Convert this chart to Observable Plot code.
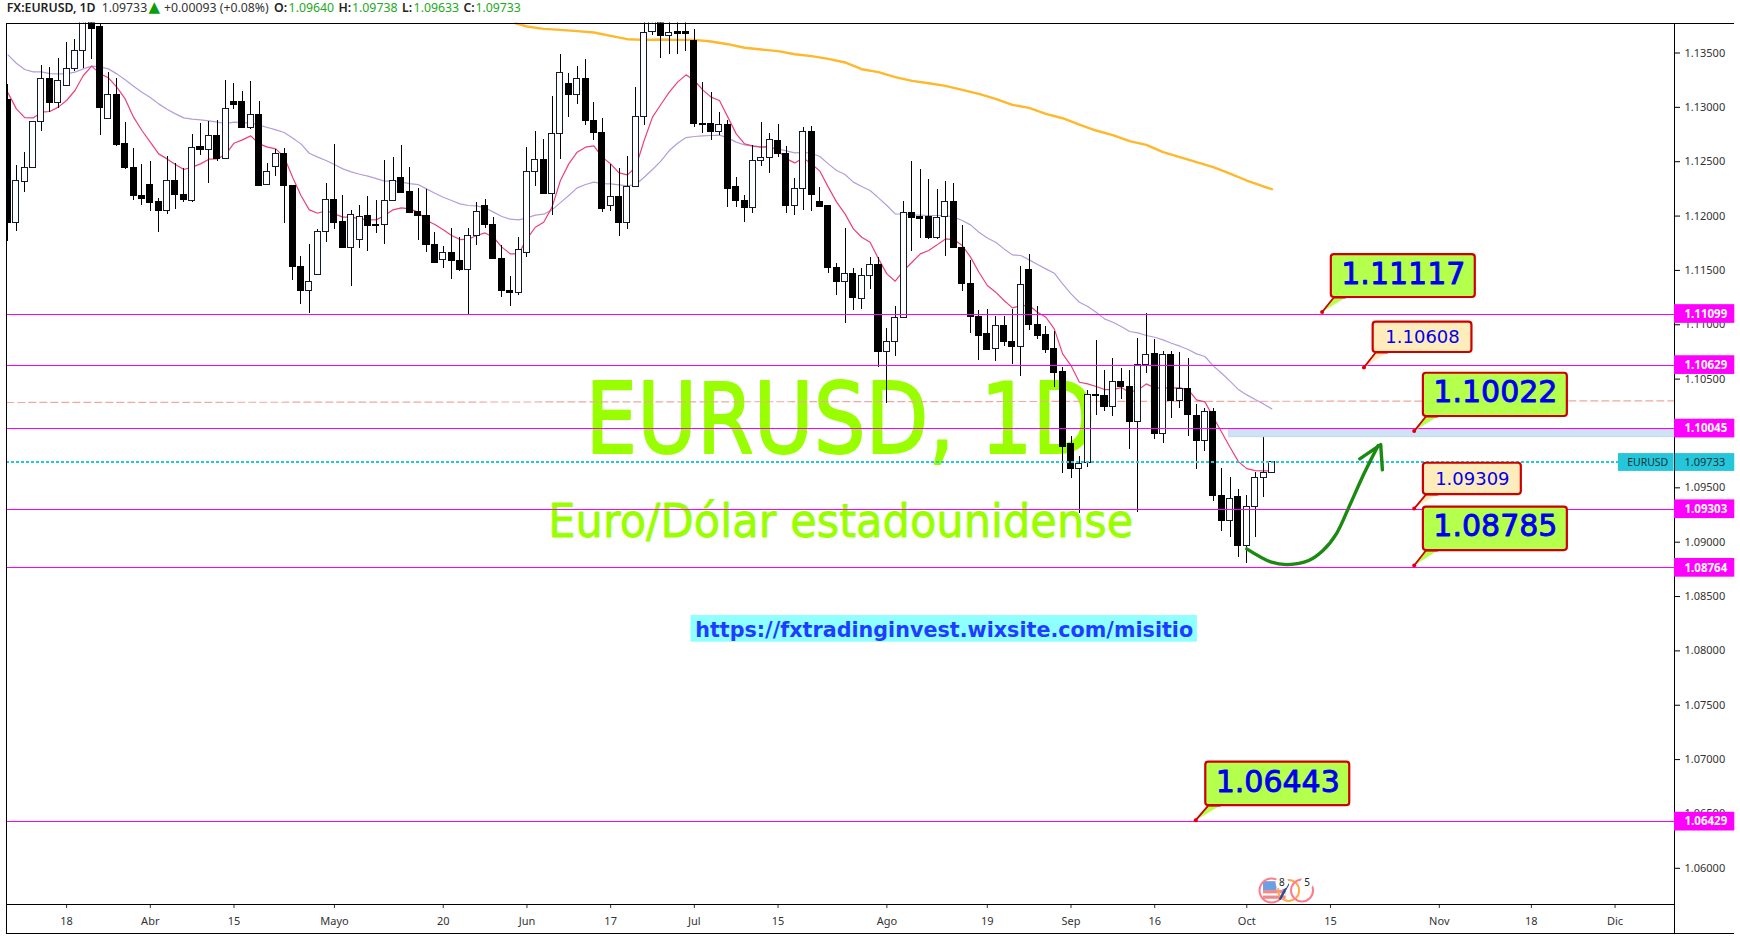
<!DOCTYPE html>
<html lang="es">
<head>
<meta charset="utf-8">
<script src="https://cdn.jsdelivr.net/npm/d3@7"></script>
<script src="https://cdn.jsdelivr.net/npm/@observablehq/plot@0.6"></script>
<style>
html,body{margin:0;padding:0;background:#fff;overflow:hidden}
#head{position:relative;height:22px;width:1740px;font-family:"Noto Sans",sans-serif;font-size:12.3px;line-height:15px;white-space:nowrap}
#head span{position:absolute;top:0}
svg{display:block}
</style>
</head>
<body>
<div id="head"></div>
<div id="chart"></div>
<script>
const opens=[1.13072,1.11934,1.12312,1.12444,1.12867,1.13263,1.13038,1.13195,1.13355,1.13520,1.13800,1.13735,1.12894,1.13115,1.12664,1.12444,1.12189,1.12287,1.12125,1.12048,1.12324,1.12198,1.12137,1.12631,1.12612,1.12738,1.12526,1.13045,1.13045,1.12808,1.12931,1.12287,1.12450,1.12572,1.12281,1.11536,1.11309,1.11459,1.11855,1.12152,1.11941,1.11704,1.11781,1.11996,1.11922,1.11919,1.12140,1.12352,1.12217,1.12033,1.12005,1.11738,1.11597,1.11661,1.11588,1.11505,1.11818,1.12088,1.11922,1.11606,1.11315,1.11291,1.11661,1.12407,1.12517,1.12201,1.12756,1.13216,1.13112,1.13263,1.12879,1.12766,1.12091,1.12177,1.11937,1.12269,1.12913,1.13695,1.13850,1.13655,1.13689,1.13689,1.13606,1.12851,1.12851,1.12769,1.12842,1.12269,1.12140,1.12076,1.12508,1.12536,1.12695,1.12572,1.12091,1.12250,1.12775,1.12131,1.12088,1.11524,1.11392,1.11468,1.11238,1.11450,1.11554,1.10748,1.10843,1.11063,1.12030,1.11987,1.11987,1.11796,1.11990,1.12131,1.11710,1.11376,1.11076,1.10919,1.10775,1.10993,1.10846,1.10794,1.11508,1.11002,1.10902,1.10781,1.10570,1.09907,1.09671,1.09730,1.10355,1.10349,1.10242,1.10478,1.10432,1.10104,1.10631,1.10735,1.09996,1.10726,1.10297,1.10413,1.10165,1.09929,1.10202,1.09429,1.09193,1.09417,1.08963,1.09322,1.09592,1.09640];
const closes=[1.11934,1.12324,1.12444,1.12867,1.13263,1.13038,1.13244,1.13355,1.13520,1.13800,1.13725,1.12993,1.13115,1.12658,1.12441,1.12183,1.12161,1.12119,1.12045,1.12324,1.12192,1.12146,1.12628,1.12606,1.12738,1.12523,1.12986,1.13026,1.12808,1.12931,1.12281,1.12407,1.12572,1.12275,1.11530,1.11309,1.11395,1.11855,1.12149,1.11934,1.11704,1.12011,1.11993,1.11907,1.11907,1.12140,1.12324,1.12210,1.12027,1.11996,1.11732,1.11566,1.11661,1.11585,1.11502,1.11815,1.12039,1.11916,1.11603,1.11309,1.11291,1.11689,1.12407,1.12517,1.12201,1.12756,1.13317,1.13112,1.13263,1.12873,1.12766,1.12063,1.12177,1.11934,1.12269,1.12913,1.13685,1.13850,1.13655,1.13685,1.13679,1.13673,1.12845,1.12842,1.12769,1.12839,1.12247,1.12137,1.12073,1.12508,1.12533,1.12701,1.12569,1.12091,1.12250,1.12775,1.12192,1.12082,1.11521,1.11392,1.11468,1.11245,1.11450,1.11551,1.10748,1.10843,1.11063,1.12030,1.11980,1.11977,1.11796,1.11983,1.12131,1.11704,1.11373,1.11070,1.10895,1.10769,1.10990,1.10840,1.10794,1.11367,1.10996,1.10895,1.10772,1.10560,1.09874,1.09671,1.09720,1.10355,1.10343,1.10242,1.10475,1.10423,1.10104,1.10631,1.10723,1.09993,1.10723,1.10297,1.10410,1.10168,1.09929,1.10199,1.09423,1.09193,1.09398,1.08963,1.09325,1.09592,1.09637,1.09733];
const highs=[1.13210,1.12465,1.12581,1.12867,1.13384,1.13370,1.13446,1.13596,1.13624,1.13900,1.13900,1.13774,1.13317,1.13263,1.12861,1.12618,1.12474,1.12499,1.12161,1.12548,1.12480,1.12434,1.12747,1.12848,1.12873,1.12876,1.13247,1.13216,1.13146,1.13238,1.13051,1.12480,1.12609,1.12618,1.12281,1.11628,1.11738,1.11873,1.12302,1.12658,1.12189,1.12048,1.12097,1.12180,1.12143,1.12511,1.12542,1.12649,1.12450,1.12253,1.12244,1.11849,1.11720,1.11882,1.11799,1.11882,1.12128,1.12149,1.11984,1.11729,1.11444,1.11799,1.12631,1.12778,1.12707,1.13100,1.13486,1.13308,1.13376,1.13440,1.13045,1.12894,1.12474,1.12434,1.12548,1.13183,1.13850,1.13950,1.13950,1.13850,1.13850,1.13850,1.13716,1.13229,1.13137,1.12953,1.12879,1.12352,1.12186,1.12646,1.12861,1.12756,1.12842,1.12640,1.12345,1.12818,1.12824,1.12263,1.12091,1.11563,1.11882,1.11517,1.11517,1.11619,1.11622,1.10962,1.11168,1.12134,1.12502,1.12428,1.12336,1.12244,1.12315,1.12299,1.11913,1.11591,1.11131,1.11141,1.11076,1.11076,1.11141,1.11536,1.11647,1.11171,1.10984,1.10941,1.10610,1.09972,1.09788,1.10395,1.10855,1.10579,1.10689,1.10595,1.10579,1.10873,1.11100,1.10864,1.10754,1.10754,1.10745,1.10689,1.10266,1.10233,1.10226,1.09674,1.09592,1.09484,1.09429,1.09637,1.09999,1.09738];
const lows=[1.11769,1.11861,1.12220,1.12444,1.12781,1.12950,1.12986,1.13195,1.13333,1.13355,1.13440,1.12744,1.12894,1.12643,1.12431,1.12143,1.12100,1.12045,1.11852,1.12011,1.12060,1.12128,1.12122,1.12557,1.12302,1.12505,1.12517,1.12980,1.12805,1.12796,1.12275,1.12281,1.12367,1.11934,1.11407,1.11189,1.11100,1.11459,1.11760,1.11879,1.11704,1.11355,1.11704,1.11677,1.11842,1.11741,1.12137,1.12210,1.12020,1.11775,1.11668,1.11560,1.11517,1.11419,1.11493,1.11082,1.11729,1.11882,1.11603,1.11254,1.11171,1.11269,1.11615,1.12275,1.12201,1.12008,1.12523,1.12904,1.13029,1.12833,1.12695,1.12036,1.12045,1.11815,1.11876,1.12266,1.12833,1.13661,1.13452,1.13486,1.13486,1.13514,1.12818,1.12763,1.12698,1.12741,1.12082,1.12082,1.11944,1.12027,1.12459,1.12395,1.12542,1.12027,1.12008,1.12051,1.12042,1.12076,1.11474,1.11269,1.11014,1.11131,1.11143,1.11327,1.10604,1.10279,1.10711,1.11054,1.11677,1.11793,1.11781,1.11787,1.11628,1.11701,1.11309,1.10923,1.10671,1.10763,1.10665,1.10800,1.10634,1.10527,1.10947,1.10864,1.10738,1.10426,1.09635,1.09589,1.09266,1.09690,1.10165,1.10202,1.10159,1.10309,1.09855,1.09276,1.10554,1.09944,1.09910,1.10141,1.10233,1.09975,1.09668,1.09837,1.09377,1.09101,1.09046,1.08856,1.08801,1.09046,1.09414,1.09633];
const emaFast=[1.13133,1.12986,1.12906,1.12903,1.12956,1.12962,1.13002,1.13063,1.13155,1.13293,1.13379,1.13308,1.13272,1.13186,1.13078,1.12910,1.12787,1.12680,1.12572,1.12526,1.12474,1.12428,1.12450,1.12480,1.12523,1.12526,1.12566,1.12670,1.12701,1.12738,1.12664,1.12634,1.12618,1.12542,1.12357,1.12189,1.12057,1.12026,1.12051,1.12020,1.11990,1.11990,1.11974,1.11968,1.11965,1.12005,1.12057,1.12076,1.12066,1.12036,1.11959,1.11922,1.11873,1.11821,1.11784,1.11787,1.11821,1.11845,1.11805,1.11714,1.11652,1.11652,1.11790,1.11897,1.11943,1.12082,1.12327,1.12480,1.12588,1.12634,1.12646,1.12542,1.12480,1.12397,1.12379,1.12450,1.12695,1.12910,1.13026,1.13140,1.13232,1.13299,1.13247,1.13161,1.13094,1.13063,1.12910,1.12756,1.12664,1.12643,1.12634,1.12643,1.12603,1.12526,1.12489,1.12535,1.12480,1.12413,1.12266,1.12128,1.12020,1.11882,1.11805,1.11759,1.11606,1.11468,1.11401,1.11499,1.11575,1.11652,1.11683,1.11735,1.11790,1.11784,1.11729,1.11622,1.11483,1.11361,1.11300,1.11223,1.11155,1.11177,1.11177,1.11115,1.11069,1.10962,1.10732,1.10625,1.10471,1.10456,1.10432,1.10404,1.10404,1.10422,1.10379,1.10401,1.10456,1.10419,1.10419,1.10419,1.10419,1.10404,1.10309,1.10291,1.10149,1.10011,1.09873,1.09741,1.09677,1.09659,1.09656,1.09656];
const emaSlow=[1.13483,1.13406,1.13348,1.13327,1.13327,1.13311,1.13308,1.13308,1.13324,1.13354,1.13379,1.13373,1.13354,1.13308,1.13253,1.13195,1.13140,1.13091,1.13032,1.12983,1.12940,1.12903,1.12891,1.12885,1.12876,1.12864,1.12851,1.12864,1.12860,1.12857,1.12836,1.12815,1.12793,1.12769,1.12719,1.12664,1.12578,1.12542,1.12511,1.12474,1.12434,1.12407,1.12385,1.12367,1.12345,1.12321,1.12324,1.12312,1.12299,1.12290,1.12250,1.12210,1.12173,1.12143,1.12112,1.12097,1.12094,1.12076,1.12036,1.11996,1.11971,1.11965,1.11983,1.12008,1.12017,1.12057,1.12124,1.12189,1.12259,1.12290,1.12312,1.12299,1.12296,1.12287,1.12278,1.12290,1.12357,1.12428,1.12505,1.12603,1.12670,1.12722,1.12732,1.12738,1.12741,1.12744,1.12719,1.12680,1.12655,1.12646,1.12634,1.12624,1.12618,1.12600,1.12581,1.12585,1.12578,1.12548,1.12480,1.12419,1.12382,1.12312,1.12272,1.12235,1.12167,1.12097,1.12020,1.12017,1.12011,1.12008,1.12005,1.12005,1.12005,1.11990,1.11959,1.11919,1.11851,1.11799,1.11759,1.11698,1.11643,1.11637,1.11597,1.11554,1.11514,1.11474,1.11376,1.11284,1.11207,1.11168,1.11115,1.11054,1.11023,1.10984,1.10938,1.10925,1.10901,1.10885,1.10861,1.10830,1.10803,1.10772,1.10732,1.10708,1.10622,1.10554,1.10481,1.10404,1.10355,1.10312,1.10272,1.10226];
const ema200Bars=[60.6,62,64,66,68,70,72,74,76,78,80,82,84,86,88,90,92,94,96,98,100,102,104,106,108,110,112,114,116,118,120,122,124,126,128,130,132,134,136,138,140,142,144,146,148,150,151];
const ema200=[1.13774,1.13744,1.13722,1.13713,1.13701,1.13689,1.13658,1.13627,1.13621,1.13624,1.13621,1.13621,1.13606,1.13581,1.13548,1.13532,1.13517,1.13489,1.13471,1.13446,1.13413,1.13351,1.13324,1.13278,1.13244,1.13222,1.13198,1.13161,1.13124,1.13078,1.13023,1.12995,1.12940,1.12900,1.12842,1.12787,1.12744,1.12689,1.12655,1.12588,1.12542,1.12496,1.12450,1.12391,1.12327,1.12272,1.12247];
const priceTicks=[1.06,1.065,1.07,1.075,1.08,1.085,1.09,1.095,1.10,1.105,1.11,1.115,1.12,1.125,1.13,1.135];
const timeTickBars=[7,17,27,39,52,62,72,82,92,105,117,127,137,148,158,171,182,192];
const timeTickLabels=["18","Abr","15","Mayo","20","Jun","17","Jul","15","Ago","19","Sep","16","Oct","15","Nov","18","Dic"];
const levels=[1.11099,1.10629,1.10045,1.09303,1.08764,1.06429];
const lastPrice=1.09733;
const callouts=[
 {v:"1.11117",tipX:157.0,tip:1.11117,x1:158.1,x2:175.3,top:1.11646,bot:1.11251,big:true},
 {v:"1.10608",tipX:162.0,tip:1.10608,x1:163.1,x2:174.9,top:1.11024,bot:1.10745,big:false},
 {v:"1.10022",tipX:168.0,tip:1.10022,x1:169.1,x2:186.3,top:1.10554,bot:1.10156,big:true},
 {v:"1.09309",tipX:168.0,tip:1.09309,x1:169.1,x2:180.8,top:1.09726,bot:1.09438,big:false},
 {v:"1.08785",tipX:168.0,tip:1.08785,x1:169.1,x2:186.3,top:1.09322,bot:1.08923,big:true},
 {v:"1.06443",tipX:141.9,tip:1.06443,x1:143.1,x2:160.3,top:1.06976,bot:1.06576,big:true}
];
const arrowBars=[148.0,150.95,152.9,155.4,157.1,158.7,160.2,162.0,163.7];
const arrowPrices=[1.08939,1.08816,1.08794,1.08831,1.08923,1.09077,1.09322,1.09629,1.09889];
const arrowHeadBars=[161.5,164.0,164.2];
const arrowHeadPrices=[1.09767,1.09898,1.09666];
const headerParts=[
 ["FX:EURUSD, 1D",6.7,"#222",600],["1.09733",101.7,"#333",400],["▲",148.5,"#0a9e0a",400],["+0.00093 (+0.08%)",164,"#333",400],
 ["O:",274,"#222",600],["1.09640",288.6,"#22a922",400],["H:",338.5,"#222",600],["1.09738",352,"#22a922",400],
 ["L:",402,"#222",600],["1.09633",413.6,"#22a922",400],["C:",463.5,"#222",600],["1.09733",475.4,"#22a922",400]
];

const headerBox=document.getElementById("head");
for(const [t,l,c,w] of headerParts){
 const s=document.createElement("span");s.textContent=t;s.style.left=l+"px";s.style.color=c;s.style.fontWeight=w;
 if(t==="▲"){s.style.fontSize="15px";s.style.fontFamily='"DejaVu Sans",sans-serif';}
 headerBox.appendChild(s);
}

const candles=d3.range(opens.length).map(i=>({i,o:opens[i],h:highs[i],l:lows[i],c:closes[i],up:closes[i]>=opens[i]}));
const seq=a=>a.map((v,i)=>({i,v}));
const barLeft=-0.143,barRight=199.1,barOuter=206.3,priceTop=1.13776,priceBottom=1.05667,priceFloor=1.054;
const GREEN="#b5ff4d",CREAM="#ffecbd",RED="#cc0000",MAG="#ff00ff",TEAL="#26c6da",LIME="#99ff00";
const font='"Noto Sans",sans-serif', dj='"DejaVu Sans",sans-serif';
const halfLabel=0.00086;
const crisp={shapeRendering:"crispEdges"};

const marks=[
 Plot.text(["EURUSD, 1D"],{x:()=>69.0,y:()=>1.09822,text:d=>d,textAnchor:"start",lineAnchor:"bottom",fontSize:98,fontFamily:dj,fill:LIME,stroke:LIME,strokeWidth:2,className:"wm-title"}),
 Plot.text(["Euro/Dólar estadounidense"],{x:()=>64.55,y:()=>1.09046,text:d=>d,textAnchor:"start",lineAnchor:"bottom",fontSize:46,fontFamily:dj,fill:LIME,stroke:LIME,strokeWidth:0.8,className:"wm-sub"}),
 Plot.rect([0],{x1:()=>81.6,x2:()=>142.1,y1:()=>1.08325,y2:()=>1.0808,fill:"#8fffff"}),
 Plot.text(["https://fxtradinginvest.wixsite.com/misitio"],{x:()=>82.1,y:()=>1.08126,text:d=>d,textAnchor:"start",lineAnchor:"bottom",fontSize:21,fontWeight:"bold",fontFamily:dj,fill:"#1f3dff",className:"wm-url"}),
 Plot.line([[barLeft,1.10285],[barRight,1.103]],{x:d=>d[0],y:d=>d[1],stroke:"#f0a8a0",strokeWidth:1.2,strokeDasharray:"7 4"}),
 Plot.line(seq(emaSlow),{x:"i",y:"v",stroke:"#b39ddb",strokeWidth:1.2,clip:true}),
 Plot.line(seq(emaFast),{x:"i",y:"v",stroke:"#ec407a",strokeWidth:1.2,clip:true}),
 Plot.line(ema200.map((v,k)=>({i:ema200Bars[k],v})),{x:"i",y:"v",stroke:"#ffb72b",strokeWidth:2.4,clip:true}),
 Plot.ruleX(candles,{x:"i",y1:"l",y2:"h",stroke:"#000",strokeWidth:1,clip:true,...crisp}),
 Plot.rect(candles,{x1:d=>d.i-0.36,x2:d=>d.i+0.36,y1:d=>Math.min(d.o,d.c),y2:d=>Math.max(d.o,d.c),fill:d=>d.up?"#fff":"#000",stroke:d=>d.up?"#111a2e":"#000",strokeWidth:1,clip:true,...crisp}),
 Plot.rect([0],{x1:()=>145.9,x2:()=>barRight,y1:()=>1.10034,y2:()=>1.09966,fill:"#cfe2f6",stroke:"#c0d8f2",strokeWidth:1}),
 Plot.ruleY(levels,{x1:barLeft,x2:barRight,stroke:MAG,strokeWidth:1,...crisp}),
 Plot.ruleY([lastPrice],{x1:barLeft,x2:192.4,stroke:TEAL,strokeWidth:2,strokeDasharray:"3 2",...crisp}),
 Plot.line(arrowBars.map((x,k)=>({x,y:arrowPrices[k]})),{x:"x",y:"y",curve:"catmull-rom",stroke:"#1a8a12",strokeWidth:3.4}),
 Plot.line(arrowHeadBars.map((x,k)=>({x,y:arrowHeadPrices[k]})),{x:"x",y:"y",stroke:"#1a8a12",strokeWidth:3.4}),
 ...callouts.flatMap(c=>{
   const fill=c.big?GREEN:CREAM;
   return [
    Plot.line([[c.tipX,c.tip],[c.x1+0.3,c.bot],[c.x1+1.7,c.bot]],{x:d=>d[0],y:d=>d[1],fill,stroke:RED,strokeWidth:1.8}),
    Plot.rect([c],{x1:"x1",x2:"x2",y1:"bot",y2:"top",fill,stroke:RED,strokeWidth:2.2,rx:3}),
    Plot.dot([c],{x:"tipX",y:"tip",r:2,fill:"#e00000"}),
    Plot.text([c],{x:d=>(d.x1+d.x2)/2,y:d=>(d.top+d.bot)/2,dy:c.big?-2:0,text:"v",fill:"#0000ee",fontFamily:dj,fontSize:c.big?30:18,stroke:c.big?"#0000ee":"none",strokeWidth:0.9})
   ];
 }),
 Plot.rect([0],{x1:()=>150,x2:()=>152.7,y1:()=>1.05795,y2:()=>1.05715,fill:"#f08a8a"}),
 Plot.rect([0],{x1:()=>150,x2:()=>152.7,y1:()=>1.05765,y2:()=>1.05745,fill:"#fff"}),
 Plot.rect([0],{x1:()=>150,x2:()=>151.6,y1:()=>1.05877,y2:()=>1.05795,fill:"#6f9fe0"}),
 Plot.dot([150.96],{x:d=>d,y:()=>1.05796,r:12,stroke:"#ff7a8a",strokeWidth:2,fill:"none"}),
 Plot.dot([153],{x:d=>d,y:()=>1.05796,r:10.5,stroke:"#ffa94d",strokeWidth:2,fill:"none"}),
 Plot.dot([154.6],{x:d=>d,y:()=>1.05796,r:11,stroke:"#ff7a8a",strokeWidth:2,fill:"none"}),
 Plot.line([[152.0,1.0572],[152.9,1.0585]],{x:d=>d[0],y:d=>d[1],stroke:"#2a4fa0",strokeWidth:2.5}),
 Plot.dot([152.2,155.2],{x:d=>d,y:()=>1.05869,r:6.5,fill:"#fff"}),
 Plot.text(["8","5"],{x:(d,k)=>[152.2,155.2][k],y:()=>1.05869,text:d=>d,fontSize:10,fill:"#222",fontFamily:font}),
 Plot.axisY({anchor:"right",ticks:priceTicks,tickFormat:d3.format(".5f"),tickSize:5,tickPadding:5,fontSize:11,label:null,color:"#333",fontFamily:font,stroke:"#000"}),
 Plot.axisX({anchor:"bottom",ticks:timeTickBars,tickFormat:d=>timeTickLabels[timeTickBars.indexOf(d)],tickSize:4,tickPadding:9,fontSize:11,label:null,color:"#333",fontFamily:font}),
 Plot.ruleX([barLeft],{y1:priceFloor,y2:priceTop,stroke:"#000",strokeWidth:1,...crisp}),
 Plot.ruleX([barRight],{y1:priceFloor,y2:priceTop,stroke:"#000",strokeWidth:1,...crisp}),
 Plot.ruleY([priceTop],{x1:barLeft,x2:barOuter,stroke:"#000",strokeWidth:1,...crisp}),
 Plot.ruleY([priceBottom],{x1:barLeft,x2:barRight,stroke:"#000",strokeWidth:1,...crisp}),
 Plot.ruleY([priceFloor],{x1:barLeft,x2:barOuter,stroke:"#000",strokeWidth:1,...crisp}),
 Plot.rect(levels,{x1:()=>barRight,x2:()=>barOuter,y1:d=>d-halfLabel,y2:d=>d+halfLabel,fill:MAG}),
 Plot.text(levels,{x:()=>barRight+1.2,y:d=>d,text:d3.format(".5f"),textAnchor:"start",fontSize:11.5,fontWeight:"bold",fill:"#fff",fontFamily:font}),
 Plot.rect([0],{x1:()=>192.4,x2:()=>barRight-0.05,y1:()=>lastPrice-0.00082,y2:()=>lastPrice+0.00082,fill:TEAL}),
 Plot.rect([0],{x1:()=>barRight+0.1,x2:()=>barOuter,y1:()=>lastPrice-0.00082,y2:()=>lastPrice+0.00082,fill:TEAL}),
 Plot.text(["EURUSD"],{x:()=>195.9,y:()=>lastPrice,text:d=>d,fontSize:10.5,fill:"#12343a",fontFamily:font}),
 Plot.text([lastPrice],{x:()=>barRight+1.2,y:d=>d,text:d3.format(".5f"),textAnchor:"start",fontSize:11,fill:"#12343a",fontFamily:font})
];

const svg=Plot.plot({
 width:1740,height:917,marginTop:0.5,marginBottom:35,marginLeft:6.3,marginRight:66,
 x:{domain:[barLeft,barRight],axis:null},
 y:{domain:[priceBottom,priceTop],axis:null},
 style:{background:"#fff",fontFamily:font,overflow:"visible"},
 marks
});
document.getElementById("chart").appendChild(svg);
for(const [cls,len] of [["wm-title",510],["wm-sub",585],["wm-url",498]]){
 d3.select(svg).selectAll("."+cls+" text").attr("textLength",len).attr("lengthAdjust","spacingAndGlyphs");
}
</script>
</body>
</html>
